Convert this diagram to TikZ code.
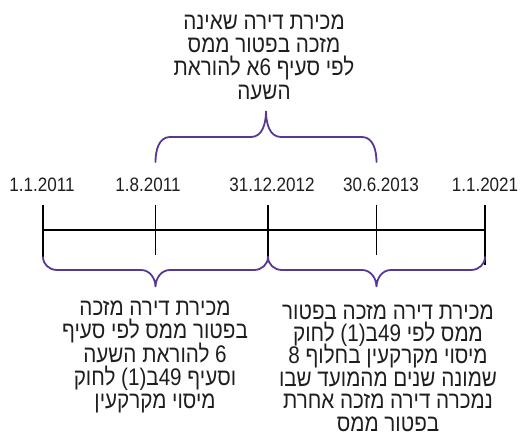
\documentclass[tikz,border=0pt]{standalone}
\usepackage{fontspec}
\setmainfont[FakeStretch=0.88]{Liberation Sans}
\newfontfamily\heb[Script=Hebrew,FakeStretch=0.86]{Liberation Sans}
\TeXXeTstate=1
\lineskiplimit=-20pt
\definecolor{bracecol}{RGB}{88,56,150}
\definecolor{textcol}{RGB}{30,30,30}
\begin{document}
\begin{tikzpicture}[x=1pt,y=1pt,
  tl/.style={line width=1.4pt, black},
  br/.style={line width=1.8pt, bracecol, line cap=round},
  datelbl/.style={font=\fontsize{19.4}{22}\selectfont, inner sep=0pt, text=textcol},
  txt/.style={font=\heb\fontsize{24}{23.4}\selectfont, align=center, inner sep=0pt, text=textcol}]
\useasboundingbox (0,0) rectangle (523,437);
% timeline points
\coordinate (t1) at (43,207);
\coordinate (t2) at (155.5,207);
\coordinate (t3) at (268,207);
\coordinate (t4) at (376.5,207);
\coordinate (t5) at (485,207);
\draw[tl] (t1) -- (t5);
\draw[tl] ([yshift=25]t1) -- ([yshift=-27]t1);
\draw[tl] ([yshift=25]t2) -- ([yshift=-25]t2);
\draw[tl] ([yshift=25]t3) -- ([yshift=-29]t3);
\draw[tl] ([yshift=25]t4) -- ([yshift=-25]t4);
\draw[tl] ([yshift=25]t5) -- ([yshift=-35]t5);
% dates
\node[datelbl] (d1) at (42,252) {1.1.2011};
\node[datelbl] (d2) at (148,252) {1.8.2011};
\node[datelbl] (d3) at (272,252) {31.12.2012};
\node[datelbl] (d4) at (381,252) {30.6.2013};
\node[datelbl] (d5) at (485,252) {1.1.2021};
% braces
\draw[br] (43,180) to[out=-90,in=180] (57,167) -- (141,167) to[out=0,in=90] (155.5,150)
  to[out=90,in=180] (170,167) -- (254,167) to[out=0,in=-90] (268,180);
\draw[br] (268,180) to[out=-90,in=180] (282,167) -- (362,167) to[out=0,in=90] (376.5,150)
  to[out=90,in=180] (391,167) -- (471,167) to[out=0,in=-90] (485,180);
\draw[br] (155.5,275) to[out=90,in=180] (170,300) -- (251,300) to[out=0,in=-90] (266,326)
  to[out=-90,in=180] (281,300) -- (362,300) to[out=0,in=90] (376.5,275);
% texts
\node[txt] (top) at (264,380) {%
\beginR מכירת דירה שאינה\endR\\
\beginR מזכה בפטור ממס\endR\\
\beginR לפי סעיף \beginL6\endL א להוראת\endR\\
\beginR השעה\endR};
\node[txt] (left) at (155,80) {%
\beginR מכירת דירה מזכה\endR\\
\beginR בפטור ממס לפי סעיף\endR\\
\beginR\beginL6\endL{} להוראת השעה\endR\\
\beginR וסעיף \beginL49\endL ב\beginL(1)\endL{} לחוק\endR\\
\beginR מיסוי מקרקעין\endR};
\node[txt, font=\heb\fontsize{24}{22.4}\selectfont] (right) at (388,69) {%
\beginR מכירת דירה מזכה בפטור\endR\\
\beginR ממס לפי \beginL49\endL ב\beginL(1)\endL{} לחוק\endR\\
\beginR מיסוי מקרקעין בחלוף \beginL8\endL\endR\\
\beginR שמונה שנים מהמועד שבו\endR\\
\beginR נמכרה דירה מזכה אחרת\endR\\
\beginR בפטור ממס\endR};
\end{tikzpicture}
\end{document}
